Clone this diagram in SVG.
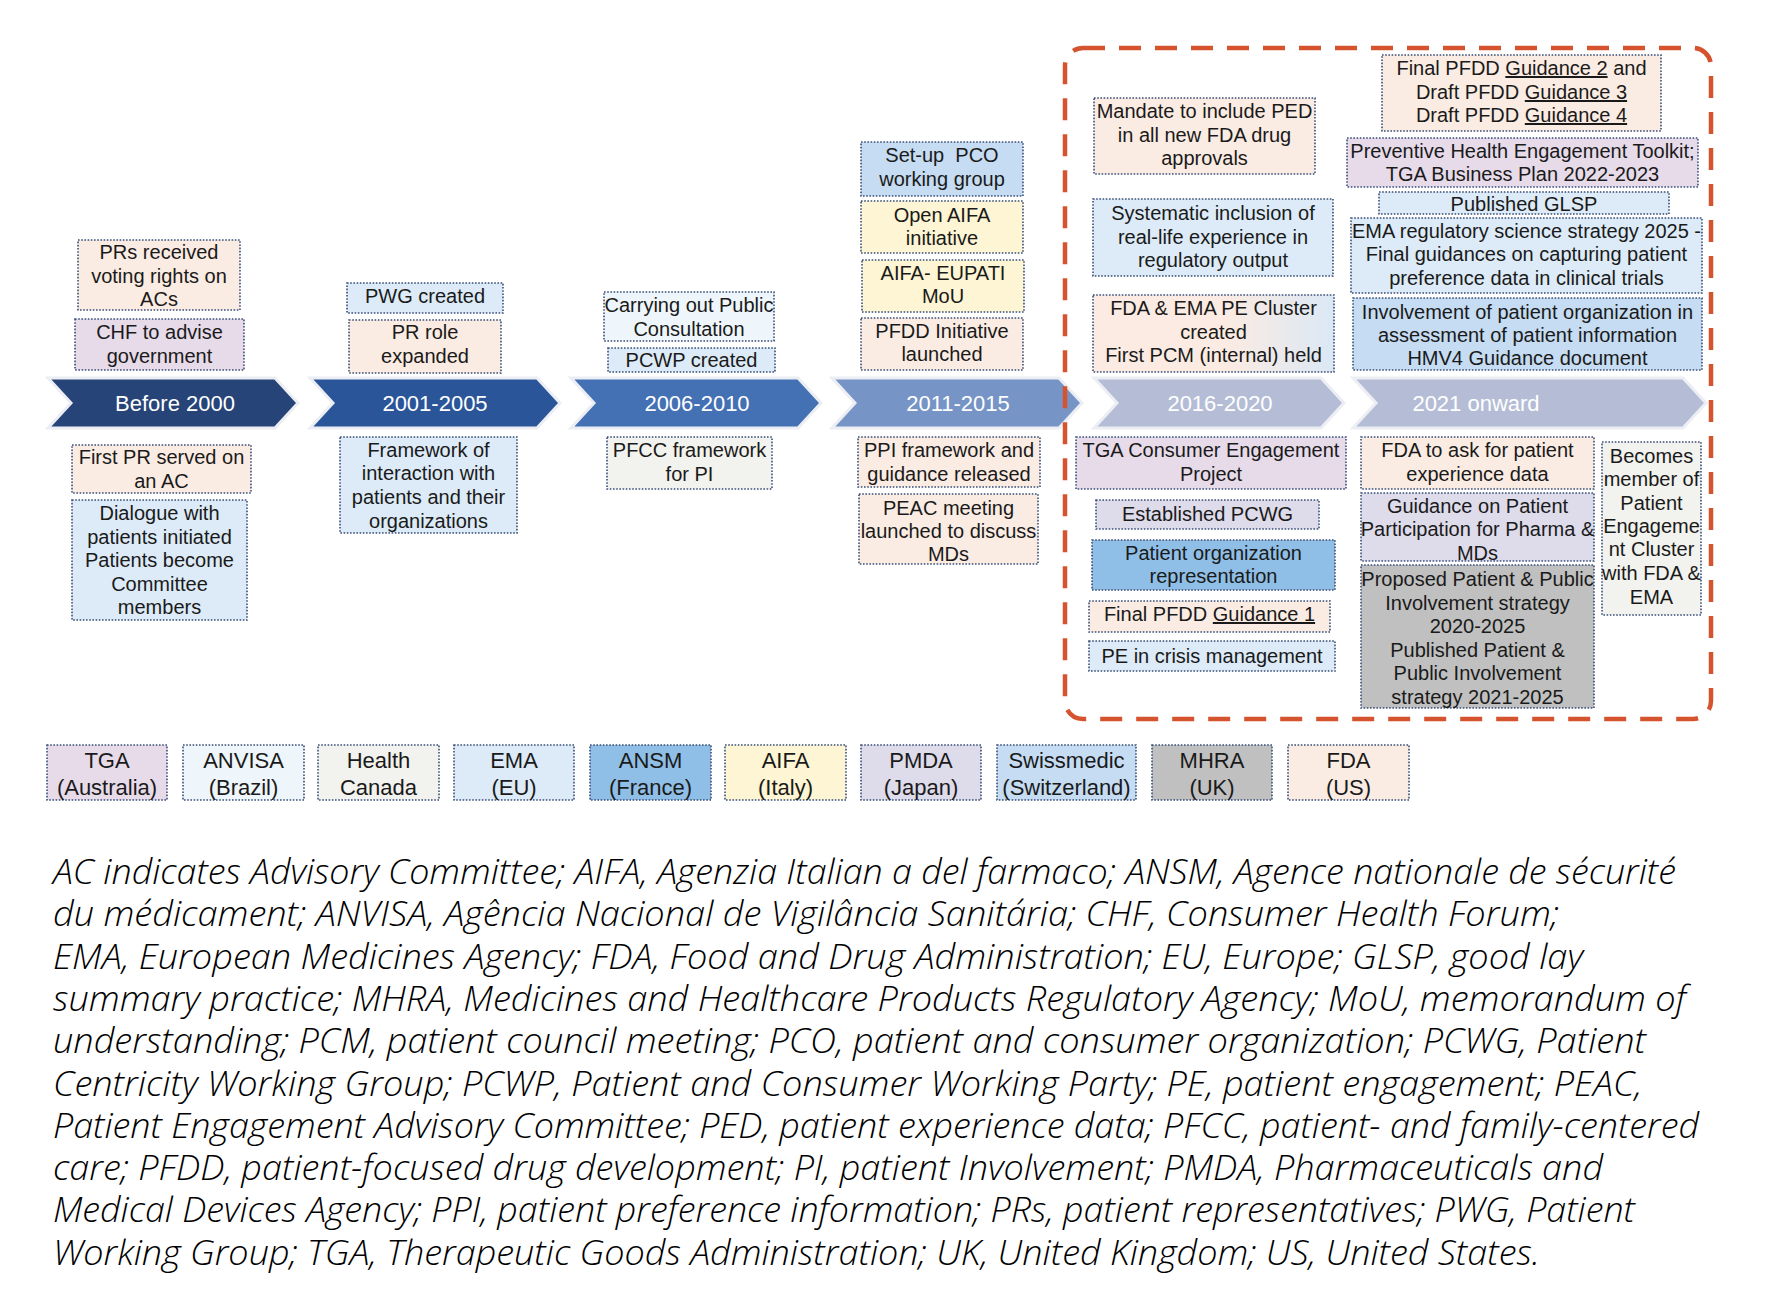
<svg xmlns="http://www.w3.org/2000/svg" width="1783" height="1305" viewBox="0 0 1783 1305">
<defs>
<linearGradient id="gradPE" x1="0" y1="0" x2="1" y2="0">
<stop offset="0" stop-color="#fbebe2"/>
<stop offset="0.55" stop-color="#fbebe2"/>
<stop offset="1" stop-color="#dbe8f5"/>
</linearGradient>
</defs>
<style>
.box{stroke:#3a4f78;stroke-width:1.6;stroke-dasharray:1.6 1.6}
.peach{fill:#fbece3}.tga{fill:#e7dbea}.anvisa{fill:#eef6fb}.hc{fill:#f2f2ee}.ema{fill:#dcebf7}
.ansm{fill:#8fbfe7}.aifa{fill:#fdf5d3}.pmda{fill:#dedbea}.swiss{fill:#c5dcf2}.mhra{fill:#c0c0c0}
.t{font-family:"Liberation Sans",Arial,sans-serif;font-size:20px;fill:#1a1a1a;text-anchor:middle}
.lg{font-family:"Liberation Sans",Arial,sans-serif;font-size:22px;fill:#1a1a1a;text-anchor:middle}
.ct{font-family:"Liberation Sans",Arial,sans-serif;font-size:22px;fill:#ffffff;text-anchor:middle}
.chev{stroke:#eceef4;stroke-width:3}
.cap{font-family:"Open Sans","Liberation Sans",sans-serif;font-style:italic;font-weight:300;font-size:35px;fill:#000000}
.u{text-decoration:underline}
</style>
<rect width="1783" height="1305" fill="#ffffff"/>

<g id="timeline">
<g id="c1"><path class="chev" fill="#264478" d="M48,378 L275,378 L298,403 L275,428 L48,428 L71,403 Z"/><text class="ct" x="175" y="411">Before 2000</text></g>
<g id="c2"><path class="chev" fill="#2a5699" d="M310,378 L537,378 L560,403 L537,428 L310,428 L333,403 Z"/><text class="ct" x="435" y="411">2001-2005</text></g>
<g id="c3"><path class="chev" fill="#4470b4" d="M571,378 L798,378 L821,403 L798,428 L571,428 L594,403 Z"/><text class="ct" x="697" y="411">2006-2010</text></g>
<g id="c4"><path class="chev" fill="#7694c5" d="M832,378 L1059,378 L1082,403 L1059,428 L832,428 L855,403 Z"/><text class="ct" x="958" y="411">2011-2015</text></g>
<g id="c5"><path class="chev" fill="#b5bdd6" d="M1094,378 L1321,378 L1344,403 L1321,428 L1094,428 L1117,403 Z"/><text class="ct" x="1220" y="411">2016-2020</text></g>
<g id="c6"><path class="chev" fill="#b5bdd6" d="M1353,378 L1683,378 L1706,403 L1683,428 L1353,428 L1376,403 Z"/><text class="ct" x="1476" y="411">2021 onward</text></g>
</g>

<g id="connectors"></g>

<g id="highlight">
<rect x="1065" y="48" width="646" height="671" rx="18" ry="18" fill="none" stroke="#d6532f" stroke-width="4.5" stroke-dasharray="22 14"/>
</g>

<!-- Before 2000 -->
<g id="n1"><rect class="box peach" x="78" y="240" width="162" height="70"/><text class="t"><tspan x="159" y="259">PRs received</tspan><tspan x="159" y="283">voting rights on</tspan><tspan x="159" y="306">ACs</tspan></text></g>
<g id="n2"><rect class="box tga" x="75" y="319" width="169" height="51"/><text class="t"><tspan x="159.5" y="339">CHF to advise</tspan><tspan x="159.5" y="363">government</tspan></text></g>
<g id="n3"><rect class="box peach" x="72" y="445" width="179" height="48"/><text class="t"><tspan x="161.5" y="464">First PR served on</tspan><tspan x="161.5" y="488">an AC</tspan></text></g>
<g id="n4"><rect class="box ema" x="72" y="500" width="175" height="120"/><text class="t"><tspan x="159.5" y="520">Dialogue with</tspan><tspan x="159.5" y="543.5">patients initiated</tspan><tspan x="159.5" y="567">Patients become</tspan><tspan x="159.5" y="590.5">Committee</tspan><tspan x="159.5" y="614">members</tspan></text></g>

<!-- 2001-2005 -->
<g id="n5"><rect class="box ema" x="347" y="283" width="156" height="30"/><text class="t"><tspan x="425" y="303">PWG created</tspan></text></g>
<g id="n6"><rect class="box peach" x="349" y="320" width="152" height="53"/><text class="t"><tspan x="425" y="339">PR role</tspan><tspan x="425" y="363">expanded</tspan></text></g>
<g id="n7"><rect class="box ema" x="340" y="437" width="177" height="96"/><text class="t"><tspan x="428.5" y="457">Framework of</tspan><tspan x="428.5" y="480">interaction with</tspan><tspan x="428.5" y="504">patients and their</tspan><tspan x="428.5" y="528">organizations</tspan></text></g>

<!-- 2006-2010 -->
<g id="n8"><rect class="box anvisa" x="604" y="292" width="170" height="49"/><text class="t"><tspan x="689" y="312">Carrying out Public</tspan><tspan x="689" y="336">Consultation</tspan></text></g>
<g id="n9"><rect class="box ema" x="608" y="348" width="167" height="24"/><text class="t"><tspan x="691.5" y="367">PCWP created</tspan></text></g>
<g id="n10"><rect class="box hc" x="607" y="437" width="165" height="52"/><text class="t"><tspan x="689.5" y="457">PFCC framework</tspan><tspan x="689.5" y="481">for PI</tspan></text></g>

<!-- 2011-2015 -->
<g id="n11"><rect class="box swiss" x="861" y="142" width="162" height="54"/><text class="t"><tspan x="942" y="162">Set-up&#160; PCO</tspan><tspan x="942" y="186">working group</tspan></text></g>
<g id="n12"><rect class="box aifa" x="861" y="201" width="162" height="52"/><text class="t"><tspan x="942" y="222">Open AIFA</tspan><tspan x="942" y="245">initiative</tspan></text></g>
<g id="n13"><rect class="box aifa" x="862" y="260" width="162" height="52"/><text class="t"><tspan x="943" y="280">AIFA- EUPATI</tspan><tspan x="943" y="303">MoU</tspan></text></g>
<g id="n14"><rect class="box peach" x="861" y="318" width="162" height="52"/><text class="t"><tspan x="942" y="338">PFDD Initiative</tspan><tspan x="942" y="361">launched</tspan></text></g>
<g id="n15"><rect class="box peach" x="858" y="437" width="182" height="50"/><text class="t"><tspan x="949" y="457">PPI framework and</tspan><tspan x="949" y="481">guidance released</tspan></text></g>
<g id="n16"><rect class="box peach" x="859" y="494" width="179" height="70"/><text class="t"><tspan x="948.5" y="515">PEAC meeting</tspan><tspan x="948.5" y="538">launched to discuss</tspan><tspan x="948.5" y="561">MDs</tspan></text></g>

<!-- 2016-2020 top -->
<g id="n17"><rect class="box peach" x="1094" y="98" width="221" height="76"/><text class="t"><tspan x="1204.5" y="118">Mandate to include PED</tspan><tspan x="1204.5" y="142">in all new FDA drug</tspan><tspan x="1204.5" y="165">approvals</tspan></text></g>
<g id="n18"><rect class="box ema" x="1093" y="199" width="240" height="77"/><text class="t"><tspan x="1213" y="220">Systematic inclusion of</tspan><tspan x="1213" y="244">real-life experience in</tspan><tspan x="1213" y="267">regulatory output</tspan></text></g>
<g id="n19"><rect class="box" fill="url(#gradPE)" x="1093" y="295" width="241" height="77"/><text class="t"><tspan x="1213.5" y="315">FDA &amp; EMA PE Cluster</tspan><tspan x="1213.5" y="339">created</tspan><tspan x="1213.5" y="362">First PCM (internal) held</tspan></text></g>

<!-- 2021 onward top -->
<g id="n20"><rect class="box peach" x="1382" y="55" width="279" height="76"/><text class="t"><tspan x="1521.5" y="75">Final PFDD <tspan class="u">Guidance 2</tspan> and</tspan><tspan x="1521.5" y="99">Draft PFDD <tspan class="u">Guidance 3</tspan></tspan><tspan x="1521.5" y="122">Draft PFDD <tspan class="u">Guidance 4</tspan></tspan></text></g>
<g id="n21"><rect class="box tga" x="1347" y="138" width="351" height="49"/><text class="t"><tspan x="1522.5" y="158">Preventive Health Engagement Toolkit;</tspan><tspan x="1522.5" y="181">TGA Business Plan 2022-2023</tspan></text></g>
<g id="n22"><rect class="box ema" x="1379" y="192" width="290" height="22"/><text class="t"><tspan x="1524" y="211">Published GLSP</tspan></text></g>
<g id="n23"><rect class="box ema" x="1351" y="218" width="351" height="75"/><text class="t"><tspan x="1526.5" y="238">EMA regulatory science strategy 2025 -</tspan><tspan x="1526.5" y="261">Final guidances on capturing patient</tspan><tspan x="1526.5" y="285">preference data in clinical trials</tspan></text></g>
<g id="n24"><rect class="box swiss" x="1353" y="298" width="349" height="72"/><text class="t"><tspan x="1527.5" y="319">Involvement of patient organization in</tspan><tspan x="1527.5" y="342">assessment of patient information</tspan><tspan x="1527.5" y="365">HMV4 Guidance document</tspan></text></g>

<!-- 2016-2020 bottom -->
<g id="n25"><rect class="box tga" x="1076" y="437" width="270" height="52"/><text class="t"><tspan x="1211" y="457">TGA Consumer Engagement</tspan><tspan x="1211" y="481">Project</tspan></text></g>
<g id="n26"><rect class="box pmda" x="1096" y="500" width="223" height="29"/><text class="t"><tspan x="1207.5" y="521">Established PCWG</tspan></text></g>
<g id="n27"><rect class="box ansm" x="1092" y="540" width="243" height="50"/><text class="t"><tspan x="1213.5" y="560">Patient organization</tspan><tspan x="1213.5" y="583">representation</tspan></text></g>
<g id="n28"><rect class="box peach" x="1089" y="601" width="241" height="31"/><text class="t"><tspan x="1209.5" y="621">Final PFDD <tspan class="u">Guidance 1</tspan></tspan></text></g>
<g id="n29"><rect class="box ema" x="1089" y="641" width="246" height="30"/><text class="t"><tspan x="1212" y="663">PE in crisis management</tspan></text></g>

<!-- 2021 onward bottom -->
<g id="n30"><rect class="box peach" x="1361" y="437" width="233" height="52"/><text class="t"><tspan x="1477.5" y="457">FDA to ask for patient</tspan><tspan x="1477.5" y="481">experience data</tspan></text></g>
<g id="n31"><rect class="box pmda" x="1361" y="493" width="233" height="68"/><text class="t"><tspan x="1477.5" y="513">Guidance on Patient</tspan><tspan x="1477.5" y="536">Participation for Pharma &amp;</tspan><tspan x="1477.5" y="560">MDs</tspan></text></g>
<g id="n32"><rect class="box mhra" x="1361" y="565" width="233" height="143"/><text class="t"><tspan x="1477.5" y="586">Proposed Patient &amp; Public</tspan><tspan x="1477.5" y="610">Involvement strategy</tspan><tspan x="1477.5" y="633">2020-2025</tspan><tspan x="1477.5" y="657">Published Patient &amp;</tspan><tspan x="1477.5" y="680">Public Involvement</tspan><tspan x="1477.5" y="704">strategy 2021-2025</tspan></text></g>
<g id="n33"><rect class="box hc" x="1602" y="442" width="99" height="173"/><text class="t"><tspan x="1651.5" y="463">Becomes</tspan><tspan x="1651.5" y="486">member of</tspan><tspan x="1651.5" y="510">Patient</tspan><tspan x="1651.5" y="533">Engageme</tspan><tspan x="1651.5" y="556">nt Cluster</tspan><tspan x="1651.5" y="580">with FDA &amp;</tspan><tspan x="1651.5" y="604">EMA</tspan></text></g>

<!-- Legend -->
<g id="legend">
<g id="lg-tga"><rect class="box tga" x="47" y="745" width="120" height="55"/><text class="lg"><tspan x="107" y="768">TGA</tspan><tspan x="107" y="795">(Australia)</tspan></text></g>
<g id="lg-anvisa"><rect class="box anvisa" x="183" y="745" width="121" height="55"/><text class="lg"><tspan x="243.5" y="768">ANVISA</tspan><tspan x="243.5" y="795">(Brazil)</tspan></text></g>
<g id="lg-hc"><rect class="box hc" x="318" y="745" width="121" height="55"/><text class="lg"><tspan x="378.5" y="768">Health</tspan><tspan x="378.5" y="795">Canada</tspan></text></g>
<g id="lg-ema"><rect class="box ema" x="454" y="745" width="120" height="55"/><text class="lg"><tspan x="514" y="768">EMA</tspan><tspan x="514" y="795">(EU)</tspan></text></g>
<g id="lg-ansm"><rect class="box ansm" x="590" y="745" width="121" height="55"/><text class="lg"><tspan x="650.5" y="768">ANSM</tspan><tspan x="650.5" y="795">(France)</tspan></text></g>
<g id="lg-aifa"><rect class="box aifa" x="725" y="745" width="121" height="55"/><text class="lg"><tspan x="785.5" y="768">AIFA</tspan><tspan x="785.5" y="795">(Italy)</tspan></text></g>
<g id="lg-pmda"><rect class="box pmda" x="861" y="745" width="120" height="55"/><text class="lg"><tspan x="921" y="768">PMDA</tspan><tspan x="921" y="795">(Japan)</tspan></text></g>
<g id="lg-swiss"><rect class="box swiss" x="997" y="745" width="139" height="55"/><text class="lg"><tspan x="1066.5" y="768">Swissmedic</tspan><tspan x="1066.5" y="795">(Switzerland)</tspan></text></g>
<g id="lg-mhra"><rect class="box mhra" x="1152" y="745" width="120" height="55"/><text class="lg"><tspan x="1212" y="768">MHRA</tspan><tspan x="1212" y="795">(UK)</tspan></text></g>
<g id="lg-fda"><rect class="box peach" x="1288" y="745" width="121" height="55"/><text class="lg"><tspan x="1348.5" y="768">FDA</tspan><tspan x="1348.5" y="795">(US)</tspan></text></g>
</g>

<!-- Caption -->
<g id="caption">
<text class="cap" x="53" y="884" textLength="1623" lengthAdjust="spacingAndGlyphs">AC indicates Advisory Committee; AIFA, Agenzia Italian a del farmaco; ANSM, Agence nationale de sécurité</text>
<text class="cap" x="53" y="926.3" textLength="1506" lengthAdjust="spacingAndGlyphs">du médicament; ANVISA, Agência Nacional de Vigilância Sanitária; CHF, Consumer Health Forum;</text>
<text class="cap" x="53" y="968.6" textLength="1530" lengthAdjust="spacingAndGlyphs">EMA, European Medicines Agency; FDA, Food and Drug Administration; EU, Europe; GLSP, good lay</text>
<text class="cap" x="53" y="1010.9" textLength="1633" lengthAdjust="spacingAndGlyphs">summary practice; MHRA, Medicines and Healthcare Products Regulatory Agency; MoU, memorandum of</text>
<text class="cap" x="53" y="1053.2" textLength="1593" lengthAdjust="spacingAndGlyphs">understanding; PCM, patient council meeting; PCO, patient and consumer organization; PCWG, Patient</text>
<text class="cap" x="53" y="1095.5" textLength="1589" lengthAdjust="spacingAndGlyphs">Centricity Working Group; PCWP, Patient and Consumer Working Party; PE, patient engagement; PEAC,</text>
<text class="cap" x="53" y="1137.8" textLength="1646" lengthAdjust="spacingAndGlyphs">Patient Engagement Advisory Committee; PED, patient experience data; PFCC, patient- and family-centered</text>
<text class="cap" x="53" y="1180.1" textLength="1550" lengthAdjust="spacingAndGlyphs">care; PFDD, patient-focused drug development; PI, patient Involvement; PMDA, Pharmaceuticals and</text>
<text class="cap" x="53" y="1222.4" textLength="1582" lengthAdjust="spacingAndGlyphs">Medical Devices Agency; PPI, patient preference information; PRs, patient representatives; PWG, Patient</text>
<text class="cap" x="53" y="1264.7" textLength="1487" lengthAdjust="spacingAndGlyphs">Working Group; TGA, Therapeutic Goods Administration; UK, United Kingdom; US, United States.</text>
</g>
</svg>
